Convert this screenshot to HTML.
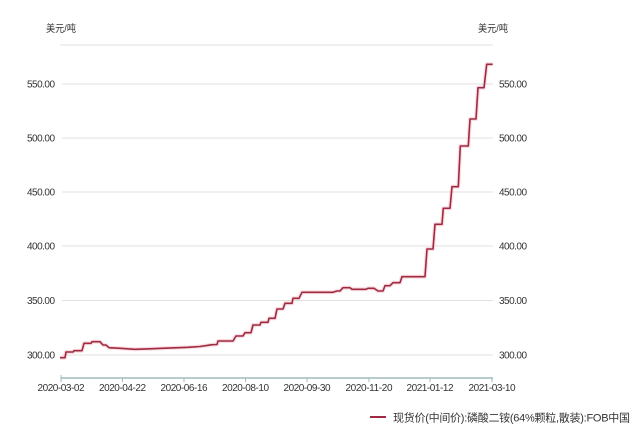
<!DOCTYPE html>
<html>
<head>
<meta charset="utf-8">
<style>
html,body{margin:0;padding:0;background:#fff;}
svg{display:block;}
text{font-family:"Liberation Sans","Noto Sans CJK SC",sans-serif;fill:#333;}
</style>
</head>
<body>
<svg width="640" height="434" viewBox="0 0 640 434" xmlns="http://www.w3.org/2000/svg">
<rect width="640" height="434" fill="#fff"/>
<!-- units -->
<text x="46" y="32" font-size="10" textLength="30" lengthAdjust="spacingAndGlyphs">美元/吨</text>
<text x="478" y="32" font-size="10" textLength="30" lengthAdjust="spacingAndGlyphs">美元/吨</text>
<!-- grid -->
<g stroke="#e0e0e0" stroke-width="1">
<line x1="60" y1="45" x2="493" y2="45"/>
<line x1="62" y1="84" x2="493" y2="84"/>
<line x1="62" y1="138" x2="493" y2="138"/>
<line x1="62" y1="192" x2="493" y2="192"/>
<line x1="62" y1="246" x2="493" y2="246"/>
<line x1="62" y1="300.5" x2="493" y2="300.5"/>
<line x1="62" y1="355" x2="493" y2="355"/>
</g>
<!-- left labels -->
<g font-size="10" text-anchor="end">
<text x="55" y="87.5" textLength="28">550.00</text>
<text x="55" y="141.5" textLength="28">500.00</text>
<text x="55" y="195.5" textLength="28">450.00</text>
<text x="55" y="249.5" textLength="28">400.00</text>
<text x="55" y="304" textLength="28">350.00</text>
<text x="55" y="358.5" textLength="28">300.00</text>
</g>
<!-- right labels -->
<g font-size="10">
<text x="499" y="87.5" textLength="28">550.00</text>
<text x="499" y="141.5" textLength="28">500.00</text>
<text x="499" y="195.5" textLength="28">450.00</text>
<text x="499" y="249.5" textLength="28">400.00</text>
<text x="499" y="304" textLength="28">350.00</text>
<text x="499" y="358.5" textLength="28">300.00</text>
</g>
<!-- x axis -->
<line x1="61" y1="378" x2="493" y2="378" stroke="#9dbcbf" stroke-width="1.5"/>
<g stroke="#9dbcbf" stroke-width="1">
<line x1="61" y1="375" x2="61" y2="382"/>
<line x1="122.5" y1="378" x2="122.5" y2="382"/>
<line x1="184" y1="378" x2="184" y2="382"/>
<line x1="245.5" y1="378" x2="245.5" y2="382"/>
<line x1="307" y1="378" x2="307" y2="382"/>
<line x1="369" y1="378" x2="369" y2="382"/>
<line x1="430" y1="378" x2="430" y2="382"/>
<line x1="492" y1="378" x2="492" y2="382"/>
</g>
<g font-size="10" text-anchor="middle">
<text x="61" y="391" textLength="47">2020-03-02</text>
<text x="122.5" y="391" textLength="47">2020-04-22</text>
<text x="184" y="391" textLength="47">2020-06-16</text>
<text x="245.5" y="391" textLength="47">2020-08-10</text>
<text x="307" y="391" textLength="47">2020-09-30</text>
<text x="369" y="391" textLength="47">2020-11-20</text>
<text x="430" y="391" textLength="47">2021-01-12</text>
<text x="492" y="391" textLength="47">2021-03-10</text>
</g>
<!-- series -->
<polyline fill="none" stroke="#f3c6cf" stroke-width="4" stroke-linejoin="round" opacity="0.6" points="60,357.7 65,357.7 66,352 73,352 74,350.7 82,350.7 84,343.3 91,343.3 92,341.7 100,341.7 103,345 106,345 109,347.7 120,348.3 135,349.3 150,348.8 162,348.3 188,347.3 200,346.5 208,345.3 212,344.7 217,344.5 218,341 233,341 236,336 243,336 245,332.7 251,332.7 253,325 260,325 261,322.3 268,322.3 269,318.3 275,318.3 277,309 283,309 285,303.3 292,303.3 293,298.3 299,298.3 302,292.3 333,292.3 337,291 340,291 343,287.7 350,287.7 352,289.3 360,289.3 366,289.3 368,288.3 374,288.3 378,291 383,291 385,285.7 390,285.7 393,282.7 400,282.7 402,276.7 425,276.7 427,249 433,249 435,224.3 442,224.3 443.3,208.3 450,208.3 452,186.7 458.3,186.7 460.3,146 468.3,146 470,119 476,119 478,87.7 484,87.7 486.7,64.3 492.7,64.3"/>
<polyline fill="none" stroke="#a02a40" stroke-width="1.6" stroke-linejoin="round" points="60,357.7 65,357.7 66,352 73,352 74,350.7 82,350.7 84,343.3 91,343.3 92,341.7 100,341.7 103,345 106,345 109,347.7 120,348.3 135,349.3 150,348.8 162,348.3 188,347.3 200,346.5 208,345.3 212,344.7 217,344.5 218,341 233,341 236,336 243,336 245,332.7 251,332.7 253,325 260,325 261,322.3 268,322.3 269,318.3 275,318.3 277,309 283,309 285,303.3 292,303.3 293,298.3 299,298.3 302,292.3 333,292.3 337,291 340,291 343,287.7 350,287.7 352,289.3 360,289.3 366,289.3 368,288.3 374,288.3 378,291 383,291 385,285.7 390,285.7 393,282.7 400,282.7 402,276.7 425,276.7 427,249 433,249 435,224.3 442,224.3 443.3,208.3 450,208.3 452,186.7 458.3,186.7 460.3,146 468.3,146 470,119 476,119 478,87.7 484,87.7 486.7,64.3 492.7,64.3"/>
<!-- legend -->
<line x1="370" y1="417" x2="386" y2="417" stroke="#a02a40" stroke-width="2"/>
<text x="393" y="421.5" font-size="11" textLength="237">现货价(中间价):磷酸二铵(64%颗粒,散装):FOB中国</text>
</svg>
</body>
</html>
